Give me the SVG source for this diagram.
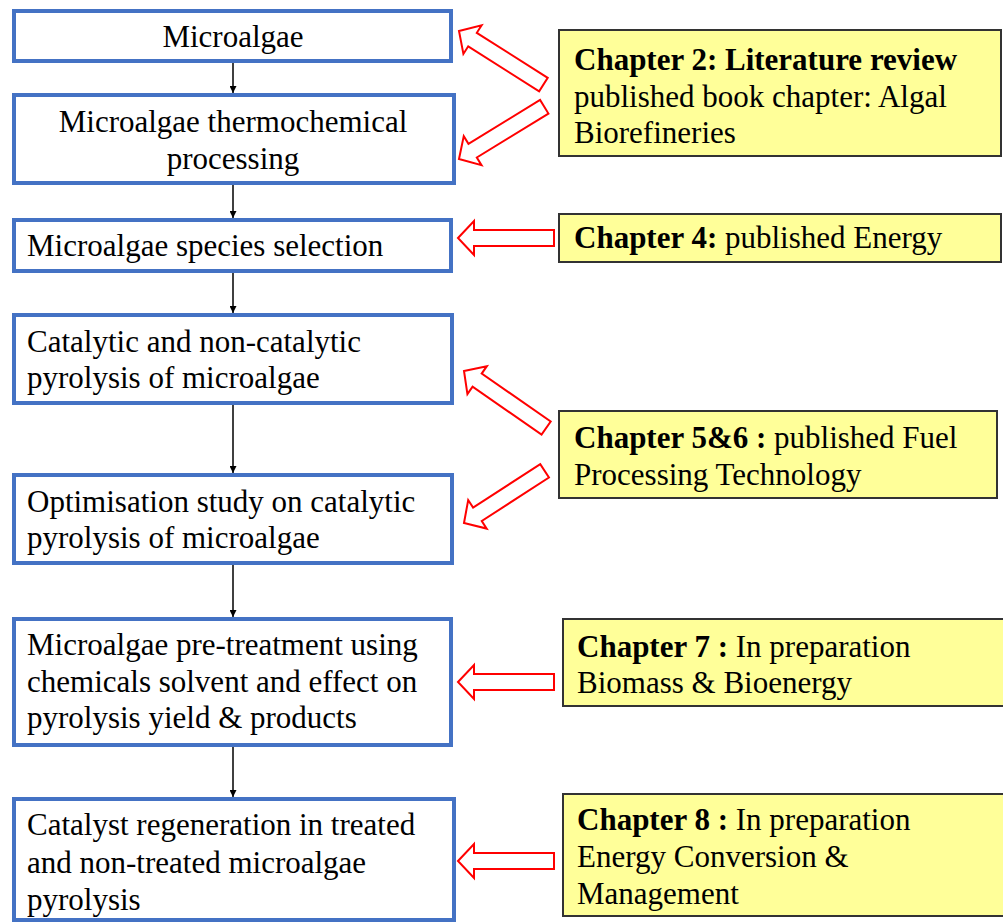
<svg xmlns="http://www.w3.org/2000/svg" width="1003" height="924" viewBox="0 0 1003 924">
  <defs>
    <marker id="head" viewBox="0 0 10 10" refX="10" refY="5" markerWidth="7" markerHeight="7" markerUnits="userSpaceOnUse" orient="auto">
      <path d="M0,0 L10,5 L0,10 z" fill="#000"/>
    </marker>
    <!-- hollow block arrow, tip at origin, body along +x -->
    <polygon id="blk100" points="0,0 16,-17 16,-8 100,-8 100,8 16,8 16,17"/>
    <polygon id="blk96" points="0,0 16,-17 16,-8 96,-8 96,8 16,8 16,17"/>
  </defs>
  <style>
    .step rect { fill: #fff; stroke: #4472C4; stroke-width: 4; }
    .step text, .note text { font-family: "Liberation Serif", "Times New Roman", serif; font-size: 31px; fill: #000; }
    .note rect { fill: #FFFF99; stroke: #333; stroke-width: 2; }
    .note .b { font-weight: bold; }
    .flow line { stroke: #000; stroke-width: 1.5; marker-end: url(#head); }
    .refs use { fill: #fff; stroke: #FF0000; stroke-width: 2; stroke-linejoin: miter; }
  </style>

  <rect width="1003" height="924" fill="#fff"/>

  <!-- process steps -->
  <g id="step1" class="step">
    <rect x="14" y="11" width="437" height="50"/>
    <text x="233" y="47" text-anchor="middle">Microalgae</text>
  </g>
  <g id="step2" class="step">
    <rect x="14" y="95" width="440" height="88"/>
    <text x="233" y="132" text-anchor="middle">Microalgae thermochemical</text>
    <text x="233" y="169" text-anchor="middle">processing</text>
  </g>
  <g id="step3" class="step">
    <rect x="14" y="220" width="437" height="51"/>
    <text x="27" y="256">Microalgae species selection</text>
  </g>
  <g id="step4" class="step">
    <rect x="14" y="315" width="438" height="88"/>
    <text x="27" y="352">Catalytic and non-catalytic</text>
    <text x="27" y="388">pyrolysis of microalgae</text>
  </g>
  <g id="step5" class="step">
    <rect x="14" y="475" width="438" height="88"/>
    <text x="27" y="512">Optimisation study on catalytic</text>
    <text x="27" y="548">pyrolysis of microalgae</text>
  </g>
  <g id="step6" class="step">
    <rect x="14" y="619" width="437" height="126"/>
    <text x="27" y="655">Microalgae pre-treatment using</text>
    <text x="27" y="692">chemicals solvent and effect on</text>
    <text x="27" y="728">pyrolysis yield &amp; products</text>
  </g>
  <g id="step7" class="step">
    <rect x="14" y="799" width="440" height="121"/>
    <text x="27" y="835">Catalyst regeneration in treated</text>
    <text x="27" y="873">and non-treated microalgae</text>
    <text x="27" y="910">pyrolysis</text>
  </g>

  <!-- chapter notes -->
  <g id="ch2" class="note">
    <rect x="559" y="30" width="442" height="126"/>
    <text x="574" y="70"><tspan class="b">Chapter 2: Literature review</tspan></text>
    <text x="574" y="107">published book chapter: Algal</text>
    <text x="574" y="143">Biorefineries</text>
  </g>
  <g id="ch4" class="note">
    <rect x="559" y="214" width="442" height="48"/>
    <text x="574" y="248"><tspan class="b">Chapter 4:</tspan> published Energy</text>
  </g>
  <g id="ch56" class="note">
    <rect x="559" y="411" width="438" height="87"/>
    <text x="574" y="448"><tspan class="b">Chapter 5&amp;6 :</tspan> published Fuel</text>
    <text x="574" y="485">Processing Technology</text>
  </g>
  <g id="ch7" class="note">
    <rect x="563" y="619" width="442" height="87"/>
    <text x="577" y="657"><tspan class="b">Chapter 7 :</tspan> In preparation</text>
    <text x="577" y="693">Biomass &amp; Bioenergy</text>
  </g>
  <g id="ch8" class="note">
    <rect x="563" y="794" width="442" height="122"/>
    <text x="577" y="830"><tspan class="b">Chapter 8 :</tspan> In preparation</text>
    <text x="577" y="867">Energy Conversion &amp;</text>
    <text x="577" y="904">Management</text>
  </g>

  <!-- flow between steps -->
  <g id="connectors" class="flow">
    <line x1="233" y1="63" x2="233" y2="93"/>
    <line x1="233" y1="185" x2="233" y2="218"/>
    <line x1="233" y1="273" x2="233" y2="313"/>
    <line x1="233" y1="405" x2="233" y2="473"/>
    <line x1="233" y1="565" x2="233" y2="617"/>
    <line x1="233" y1="747" x2="233" y2="797"/>
  </g>

  <!-- chapter-to-step pointers -->
  <g id="pointers" class="refs">
    <use href="#blk100" transform="translate(459,31) rotate(32.4)"/>
    <use href="#blk100" transform="translate(459,159) rotate(-31.5)"/>
    <use href="#blk96" transform="translate(458,238)"/>
    <use href="#blk100" transform="translate(464,371) rotate(34.8)"/>
    <use href="#blk96" transform="translate(464,523) rotate(-32.9)"/>
    <use href="#blk96" transform="translate(458,682)"/>
    <use href="#blk96" transform="translate(458,861)"/>
  </g>
</svg>
